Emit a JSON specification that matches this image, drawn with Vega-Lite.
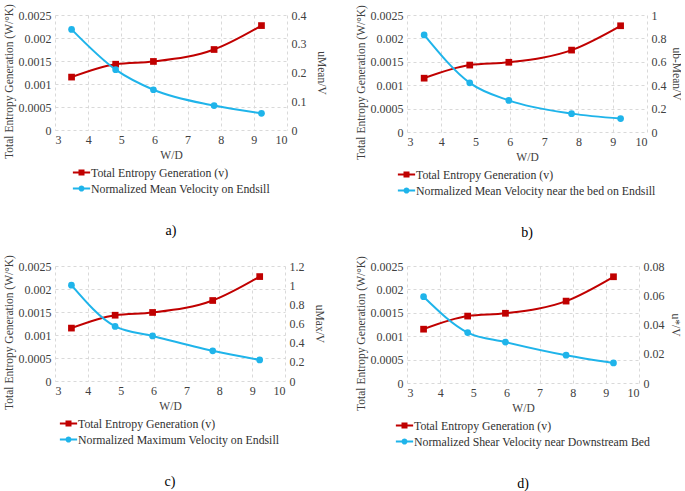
{
  "$schema": "https://vega.github.io/schema/vega-lite/v6.json",
  "padding": {"left": 2, "top": 3, "right": 0, "bottom": 0},
  "background": "white",
  "data": {"values": [
    {"wd": 3.5, "entropy": 0.00115, "vmean": 0.35, "vbed": 0.83, "vmax": 1.0, "vshear": 0.059},
    {"wd": 4.83, "entropy": 0.00143, "vmean": 0.21, "vbed": 0.42, "vmax": 0.57, "vshear": 0.0345},
    {"wd": 5.97, "entropy": 0.00149, "vmean": 0.14, "vbed": 0.27, "vmax": 0.47, "vshear": 0.028},
    {"wd": 7.8, "entropy": 0.00175, "vmean": 0.085, "vbed": 0.157, "vmax": 0.315, "vshear": 0.019},
    {"wd": 9.23, "entropy": 0.00227, "vmean": 0.058, "vbed": 0.115, "vmax": 0.22, "vshear": 0.0137}
  ]},
  "config": {
    "font": "Liberation Serif",
    "view": {"stroke": null},
    "axis": {"labelFont": "Liberation Serif", "titleFont": "Liberation Serif", "labelFontSize": 12, "titleFontSize": 11.5, "titleFontWeight": "normal", "labelColor": "#404040", "titleColor": "#404040", "domain": false, "ticks": false, "gridColor": "#d9d9d9", "gridDash": [3, 3], "labelPadding": 4, "labelOverlap": false, "titlePadding": 4},
    "axisRight": {"titlePadding": 9},
    "legend": {"labelFont": "Liberation Serif", "labelFontSize": 11.8, "labelColor": "#303030", "symbolSize": 225, "rowPadding": 0, "labelOffset": 1, "labelLimit": 400, "offset": 3, "padding": 0, "layout": {"bottom": {"anchor": "middle"}}},
    "title": {"font": "Liberation Serif", "fontSize": 14, "fontWeight": "normal", "color": "#000000", "orient": "bottom", "anchor": "middle", "offset": 28}
  },
  "columns": 2,
  "spacing": {"row": 14, "column": 28},
  "resolve": {"scale": {"color": "independent", "shape": "independent"}, "legend": {"color": "independent", "shape": "independent"}},
  "concat": [
    {
      "width": 232, "height": 115,
      "title": {"text": "a)"},
      "encoding": {"x": {"field": "wd", "type": "quantitative", "scale": {"domain": [3, 10], "nice": false}, "axis": {"values": [3,4,5,6,7,8,9,10], "title": "W/D", "grid": true, "labelOverlap": false}}},
      "layer": [
        {"encoding": {"y": {"field": "entropy", "type": "quantitative", "scale": {"domain": [0, 0.0025]}, "axis": {"orient": "left", "values": [0, 0.0005, 0.001, 0.0015, 0.002, 0.0025], "format": "~g", "title": "Total Entropy Generation (W/°K)", "grid": true, "titleY": 66}}},
         "layer": [
          {"mark": {"type": "line", "interpolate": "monotone", "color": "#C00000", "strokeWidth": 2}},
          {"mark": {"type": "point", "shape": "square", "filled": true, "opacity": 1, "color": "#C00000", "size": 45}}
         ]},
        {"encoding": {"y": {"field": "vmean", "type": "quantitative", "scale": {"domain": [0, 0.4]}, "axis": {"orient": "right", "values": [0, 0.1, 0.2, 0.3, 0.4], "format": "~g", "title": "uMean/V", "grid": false}}},
         "layer": [
          {"mark": {"type": "line", "interpolate": "monotone", "color": "#1FB4EA", "strokeWidth": 2}},
          {"mark": {"type": "point", "shape": "circle", "filled": true, "opacity": 1, "color": "#1FB4EA", "size": 45}}
         ]},
        {"transform": [{"filter": "false"}], "mark": {"type": "point", "filled": true, "opacity": 1},
         "encoding": {
          "color": {"datum": "Total Entropy Generation (v)", "scale": {"domain": ["Total Entropy Generation (v)", "Normalized Mean Velocity on Endsill"], "range": ["#C00000", "#1FB4EA"]}, "legend": {"orient": "bottom", "direction": "vertical", "title": null}},
          "shape": {"datum": "Total Entropy Generation (v)", "scale": {"domain": ["Total Entropy Generation (v)", "Normalized Mean Velocity on Endsill"], "range": ["M-1.15,-0.13H-0.4V-0.4H0.4V-0.13H1.15V0.13H0.4V0.4H-0.4V0.13H-1.15Z", "M-1.15,-0.13H-0.38A0.4,0.4 0 0,1 0.38,-0.13H1.15V0.13H0.38A0.4,0.4 0 0,1 -0.38,0.13H-1.15Z"]}, "legend": {"orient": "bottom", "direction": "vertical", "title": null}}
         }}
      ],
      "resolve": {"scale": {"y": "independent"}}
    },
    {
      "width": 240, "height": 117,
      "title": {"text": "b)"},
      "encoding": {"x": {"field": "wd", "type": "quantitative", "scale": {"domain": [3, 10], "nice": false}, "axis": {"values": [3,4,5,6,7,8,9,10], "title": "W/D", "grid": true, "labelOverlap": false}}},
      "layer": [
        {"encoding": {"y": {"field": "entropy", "type": "quantitative", "scale": {"domain": [0, 0.0025]}, "axis": {"orient": "left", "values": [0, 0.0005, 0.001, 0.0015, 0.002, 0.0025], "format": "~g", "title": "Total Entropy Generation (W/°K)", "grid": true, "titleY": 67}}},
         "layer": [
          {"mark": {"type": "line", "interpolate": "monotone", "color": "#C00000", "strokeWidth": 2}},
          {"mark": {"type": "point", "shape": "square", "filled": true, "opacity": 1, "color": "#C00000", "size": 45}}
         ]},
        {"encoding": {"y": {"field": "vbed", "type": "quantitative", "scale": {"domain": [0, 1]}, "axis": {"orient": "right", "values": [0, 0.2, 0.4, 0.6, 0.8, 1], "format": "~g", "title": "ub-Mean/V", "grid": false, "titlePadding": 4}}},
         "layer": [
          {"mark": {"type": "line", "interpolate": "monotone", "color": "#1FB4EA", "strokeWidth": 2}},
          {"mark": {"type": "point", "shape": "circle", "filled": true, "opacity": 1, "color": "#1FB4EA", "size": 45}}
         ]},
        {"transform": [{"filter": "false"}], "mark": {"type": "point", "filled": true, "opacity": 1},
         "encoding": {
          "color": {"datum": "Total Entropy Generation (v)", "scale": {"domain": ["Total Entropy Generation (v)", "Normalized Mean Velocity near the bed on Endsill"], "range": ["#C00000", "#1FB4EA"]}, "legend": {"orient": "bottom", "direction": "vertical", "title": null}},
          "shape": {"datum": "Total Entropy Generation (v)", "scale": {"domain": ["Total Entropy Generation (v)", "Normalized Mean Velocity near the bed on Endsill"], "range": ["M-1.15,-0.13H-0.4V-0.4H0.4V-0.13H1.15V0.13H0.4V0.4H-0.4V0.13H-1.15Z", "M-1.15,-0.13H-0.38A0.4,0.4 0 0,1 0.38,-0.13H1.15V0.13H0.38A0.4,0.4 0 0,1 -0.38,0.13H-1.15Z"]}, "legend": {"orient": "bottom", "direction": "vertical", "title": null}}
         }}
      ],
      "resolve": {"scale": {"y": "independent"}}
    },
    {
      "width": 230, "height": 115,
      "title": {"text": "c)"},
      "encoding": {"x": {"field": "wd", "type": "quantitative", "scale": {"domain": [3, 10], "nice": false}, "axis": {"values": [3,4,5,6,7,8,9,10], "title": "W/D", "grid": true, "labelOverlap": false}}},
      "layer": [
        {"encoding": {"y": {"field": "entropy", "type": "quantitative", "scale": {"domain": [0, 0.0025]}, "axis": {"orient": "left", "values": [0, 0.0005, 0.001, 0.0015, 0.002, 0.0025], "format": "~g", "title": "Total Entropy Generation (W/°K)", "grid": true, "titleY": 66}}},
         "layer": [
          {"mark": {"type": "line", "interpolate": "monotone", "color": "#C00000", "strokeWidth": 2}},
          {"mark": {"type": "point", "shape": "square", "filled": true, "opacity": 1, "color": "#C00000", "size": 45}}
         ]},
        {"encoding": {"y": {"field": "vmax", "type": "quantitative", "scale": {"domain": [0, 1.2]}, "axis": {"orient": "right", "values": [0, 0.2, 0.4, 0.6, 0.8, 1, 1.2], "format": "~g", "title": "uMax/V", "grid": false}}},
         "layer": [
          {"mark": {"type": "line", "interpolate": "monotone", "color": "#1FB4EA", "strokeWidth": 2}},
          {"mark": {"type": "point", "shape": "circle", "filled": true, "opacity": 1, "color": "#1FB4EA", "size": 45}}
         ]},
        {"transform": [{"filter": "false"}], "mark": {"type": "point", "filled": true, "opacity": 1},
         "encoding": {
          "color": {"datum": "Total Entropy Generation (v)", "scale": {"domain": ["Total Entropy Generation (v)", "Normalized Maximum Velocity on Endsill"], "range": ["#C00000", "#1FB4EA"]}, "legend": {"orient": "bottom", "direction": "vertical", "title": null}},
          "shape": {"datum": "Total Entropy Generation (v)", "scale": {"domain": ["Total Entropy Generation (v)", "Normalized Maximum Velocity on Endsill"], "range": ["M-1.15,-0.13H-0.4V-0.4H0.4V-0.13H1.15V0.13H0.4V0.4H-0.4V0.13H-1.15Z", "M-1.15,-0.13H-0.38A0.4,0.4 0 0,1 0.38,-0.13H1.15V0.13H0.38A0.4,0.4 0 0,1 -0.38,0.13H-1.15Z"]}, "legend": {"orient": "bottom", "direction": "vertical", "title": null}}
         }}
      ],
      "resolve": {"scale": {"y": "independent"}}
    },
    {
      "width": 232, "height": 117,
      "title": {"text": "d)"},
      "encoding": {"x": {"field": "wd", "type": "quantitative", "scale": {"domain": [3, 10], "nice": false}, "axis": {"values": [3,4,5,6,7,8,9,10], "title": "W/D", "grid": true, "labelOverlap": false}}},
      "layer": [
        {"encoding": {"y": {"field": "entropy", "type": "quantitative", "scale": {"domain": [0, 0.0025]}, "axis": {"orient": "left", "values": [0, 0.0005, 0.001, 0.0015, 0.002, 0.0025], "format": "~g", "title": "Total Entropy Generation (W/°K)", "grid": true, "titleY": 67}}},
         "layer": [
          {"mark": {"type": "line", "interpolate": "monotone", "color": "#C00000", "strokeWidth": 2}},
          {"mark": {"type": "point", "shape": "square", "filled": true, "opacity": 1, "color": "#C00000", "size": 45}}
         ]},
        {"encoding": {"y": {"field": "vshear", "type": "quantitative", "scale": {"domain": [0, 0.08]}, "axis": {"orient": "right", "values": [0, 0.02, 0.04, 0.06, 0.08], "format": "~g", "title": "u*/V", "grid": false, "titlePadding": 5}}},
         "layer": [
          {"mark": {"type": "line", "interpolate": "monotone", "color": "#1FB4EA", "strokeWidth": 2}},
          {"mark": {"type": "point", "shape": "circle", "filled": true, "opacity": 1, "color": "#1FB4EA", "size": 45}}
         ]},
        {"transform": [{"filter": "false"}], "mark": {"type": "point", "filled": true, "opacity": 1},
         "encoding": {
          "color": {"datum": "Total Entropy Generation (v)", "scale": {"domain": ["Total Entropy Generation (v)", "Normalized Shear Velocity near Downstream Bed"], "range": ["#C00000", "#1FB4EA"]}, "legend": {"orient": "bottom", "direction": "vertical", "title": null}},
          "shape": {"datum": "Total Entropy Generation (v)", "scale": {"domain": ["Total Entropy Generation (v)", "Normalized Shear Velocity near Downstream Bed"], "range": ["M-1.15,-0.13H-0.4V-0.4H0.4V-0.13H1.15V0.13H0.4V0.4H-0.4V0.13H-1.15Z", "M-1.15,-0.13H-0.38A0.4,0.4 0 0,1 0.38,-0.13H1.15V0.13H0.38A0.4,0.4 0 0,1 -0.38,0.13H-1.15Z"]}, "legend": {"orient": "bottom", "direction": "vertical", "title": null}}
         }}
      ],
      "resolve": {"scale": {"y": "independent"}}
    }
  ]
}
